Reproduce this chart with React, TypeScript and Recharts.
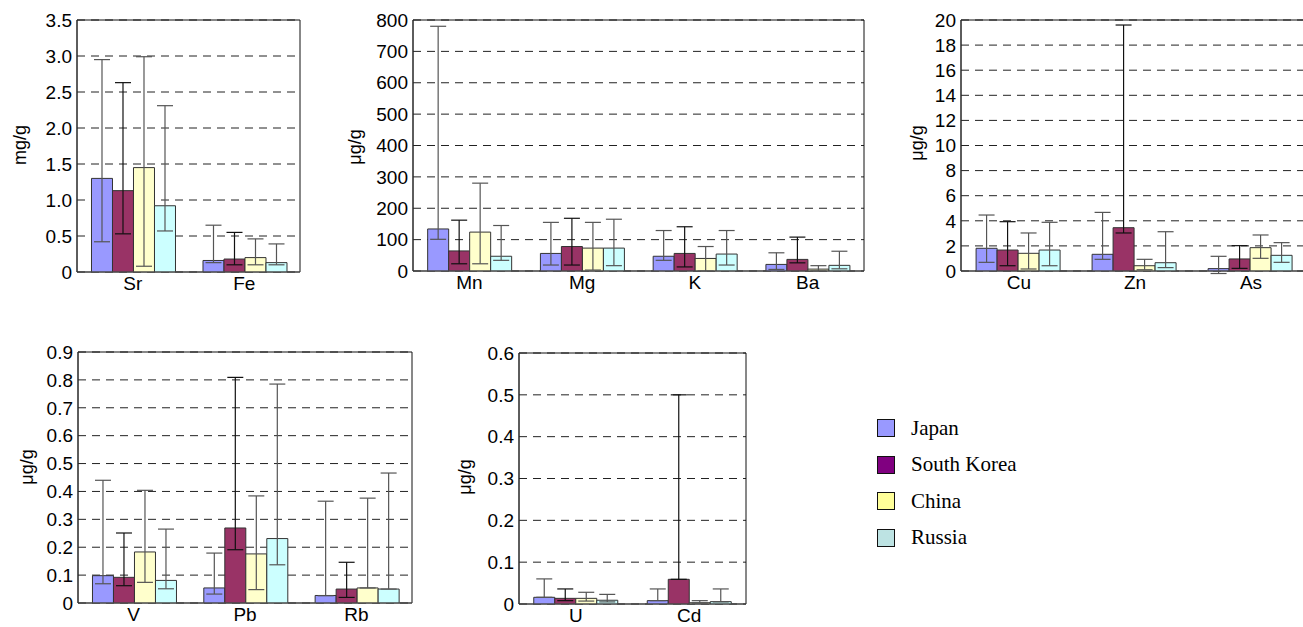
import React from 'react';
import { BarChart, Bar, XAxis, YAxis, CartesianGrid, ErrorBar, ReferenceArea } from 'recharts';

const COUNTRIES = ['Japan', 'South Korea', 'China', 'Russia'];
const BAR_FILLS = ['#9999FF', '#993366', '#FFFFCC', '#CCFFFF'];
const LEGEND_FILLS = ['#9999FF', '#800080', '#FFFF99', '#BDE3E3'];
const ERR_STROKES = ['#555', '#111', '#555', '#555'];

// rows = element, columns = Japan, South Korea, China, Russia
const srFeCats = ['Sr', 'Fe'];
const srFeMean = [[1.30, 1.13, 1.45, 0.92], [0.16, 0.18, 0.20, 0.13]];
const srFeLow = [[0.42, 0.53, 0.08, 0.57], [0.13, 0.10, 0.10, 0.10]];
const srFeHigh = [[2.95, 2.63, 2.99, 2.31], [0.65, 0.55, 0.46, 0.39]];
const srFeTicks = [0, 0.5, 1, 1.5, 2, 2.5, 3, 3.5];

const mnBaCats = ['Mn', 'Mg', 'K', 'Ba'];
const mnBaMean = [[134, 64, 124, 47], [56, 78, 73, 73], [47, 56, 40, 54], [21, 37, 6, 18]];
const mnBaLow = [[101, 23, 23, 34], [19, 19, 3, 17], [34, 13, 0, 19], [5, 26, 0, 7]];
const mnBaHigh = [[780, 162, 280, 145], [155, 168, 155, 165], [129, 141, 78, 129], [58, 108, 17, 63]];
const mnBaTicks = [0, 100, 200, 300, 400, 500, 600, 700, 800];

const cuAsCats = ['Cu', 'Zn', 'As'];
const cuAsMean = [[1.81, 1.67, 1.41, 1.67], [1.33, 3.45, 0.42, 0.66], [0.19, 0.96, 1.86, 1.25]];
const cuAsLow = [[0.69, 0.42, 0.16, 0.42], [0.93, 3.03, 0.10, 0.27], [-0.2, 0.21, 1.01, 0.69]];
const cuAsHigh = [[4.46, 3.93, 3.03, 3.88], [4.67, 19.6, 0.93, 3.13], [1.17, 2.02, 2.87, 2.26]];
const cuAsTicks = [0, 2, 4, 6, 8, 10, 12, 14, 16, 18, 20];

const vRbCats = ['V', 'Pb', 'Rb'];
const vRbMean = [[0.098, 0.092, 0.183, 0.081], [0.054, 0.269, 0.176, 0.231], [0.027, 0.05, 0.054, 0.05]];
const vRbLow = [[0.069, 0.062, 0.074, 0.051], [0.032, 0.191, 0.048, 0.137], [0.026, 0.02, 0.054, 0.05]];
const vRbHigh = [[0.44, 0.251, 0.404, 0.265], [0.179, 0.809, 0.384, 0.785], [0.365, 0.146, 0.376, 0.466]];
const vRbTicks = [0, 0.1, 0.2, 0.3, 0.4, 0.5, 0.6, 0.7, 0.8, 0.9];

const uCdCats = ['U', 'Cd'];
const uCdMean = [[0.016, 0.0135, 0.0135, 0.009], [0.008, 0.059, 0.003, 0.0056]];
const uCdLow = [[0.016, 0.008, 0.007, 0.005], [0.008, 0.059, 0.002, 0.005]];
const uCdHigh = [[0.06, 0.036, 0.028, 0.023], [0.036, 0.5, 0.008, 0.036]];
const uCdTicks = [0, 0.1, 0.2, 0.3, 0.4, 0.5, 0.6];

const FONT = '"Liberation Sans", Arial, sans-serif';

function buildRows(cats: string[], mean: number[][], low: number[][], high: number[][]) {
  return cats.map((name, i) => {
    const row: any = { name };
    COUNTRIES.forEach((_, j) => {
      row['s' + j] = mean[i][j];
      row['e' + j] = [mean[i][j] - low[i][j], high[i][j] - mean[i][j]];
    });
    return row;
  });
}

const oneDec = (v: number) => (v === 0 ? '0' : v.toFixed(1));
const plain = (v: number) => String(v);

type PanelProps = {
  plot: [number, number, number, number]; // left, top, right, bottom on the page
  axisW: number;
  rows: any[];
  ticks: number[];
  fmt: (v: number) => string;
  unit: string;
  labelX: number;
  labelY: number;
};

function Panel({ plot, axisW, rows, ticks, fmt, unit, labelX, labelY }: PanelProps) {
  const [L, T, R, B] = plot;
  const chartLeft = L - axisW;
  const chartTop = T - 10;
  const width = axisW + (R - L) + 1;
  const height = 10 + (B - T) + 30;
  const lx = labelX - chartLeft;
  const ly = labelY - chartTop;
  const top = ticks[ticks.length - 1];
  return (
    <div style={{ position: 'absolute', left: chartLeft, top: chartTop }}>
      <BarChart
        width={width}
        height={height}
        data={rows}
        margin={{ top: 10, right: 1, left: 0, bottom: 0 }}
        barCategoryGap="13%"
        barGap={0}
      >
        <CartesianGrid vertical={false} stroke="#222" strokeDasharray="8 6" />
        <XAxis
          dataKey="name"
          height={30}
          tickLine={false}
          tickSize={0}
          tickMargin={5}
          axisLine={{ stroke: '#555' }}
          tick={{ fill: '#000', fontSize: 19, fontFamily: FONT }}
        />
        <YAxis
          width={axisW}
          domain={[0, top]}
          ticks={ticks}
          allowDataOverflow
          interval={0}
          tickFormatter={fmt}
          tickLine={false}
          tickSize={0}
          tickMargin={5}
          axisLine={{ stroke: '#333' }}
          tick={{ fill: '#000', fontSize: 19, fontFamily: FONT }}
          label={{
            content: () => (
              <text
                x={lx}
                y={ly}
                transform={`rotate(-90 ${lx} ${ly})`}
                textAnchor="middle"
                dominantBaseline="central"
                fontSize={18}
                fontFamily={FONT}
                fill="#000"
              >
                {unit}
              </text>
            ),
          }}
        />
        {/* plot frame */}
        <ReferenceArea
          x1={rows[0].name}
          x2={rows[rows.length - 1].name}
          y1={0}
          y2={top}
          fill="none"
          stroke="#111"
          strokeWidth={1}
          ifOverflow="visible"
        />
        {COUNTRIES.map((c, j) => (
          <Bar key={c} dataKey={'s' + j} name={c} fill={BAR_FILLS[j]} stroke="#333" strokeWidth={1} isAnimationActive={false}>
            <ErrorBar dataKey={'e' + j} width={8} stroke={ERR_STROKES[j]} strokeWidth={1.2} direction="y" />
          </Bar>
        ))}
      </BarChart>
    </div>
  );
}

export default function App() {
  return (
    <div
      style={{
        position: 'absolute',
        left: 0,
        top: 0,
        width: 1303,
        height: 627,
        overflow: 'hidden',
        background: '#fff',
      }}
    >
      <Panel plot={[77, 20, 300, 272]} axisW={75} rows={buildRows(srFeCats, srFeMean, srFeLow, srFeHigh)} ticks={srFeTicks} fmt={oneDec} unit="mg/g" labelX={20} labelY={145} />
      <Panel plot={[413, 20, 864, 271]} axisW={75} rows={buildRows(mnBaCats, mnBaMean, mnBaLow, mnBaHigh)} ticks={mnBaTicks} fmt={plain} unit="μg/g" labelX={355} labelY={147} />
      <Panel plot={[961, 20, 1309, 271]} axisW={60} rows={buildRows(cuAsCats, cuAsMean, cuAsLow, cuAsHigh)} ticks={cuAsTicks} fmt={plain} unit="μg/g" labelX={917} labelY={143} />
      <Panel plot={[78, 352, 412, 603]} axisW={75} rows={buildRows(vRbCats, vRbMean, vRbLow, vRbHigh)} ticks={vRbTicks} fmt={oneDec} unit="μg/g" labelX={27} labelY={467} />
      <Panel plot={[519, 353, 746, 604]} axisW={75} rows={buildRows(uCdCats, uCdMean, uCdLow, uCdHigh)} ticks={uCdTicks} fmt={oneDec} unit="μg/g" labelX={465} labelY={477} />

      <div style={{ position: 'absolute', left: 877, top: 410 }}>
        {COUNTRIES.map((c, j) => (
          <div key={c} style={{ display: 'flex', alignItems: 'center', height: 36.5 }}>
            <div
              style={{
                width: 16,
                height: 16,
                background: LEGEND_FILLS[j],
                border: '1.5px solid #111',
                marginRight: 16,
              }}
            />
            <span style={{ fontFamily: '"Liberation Serif", "Times New Roman", serif', fontSize: 21, color: '#000' }}>{c}</span>
          </div>
        ))}
      </div>
    </div>
  );
}
